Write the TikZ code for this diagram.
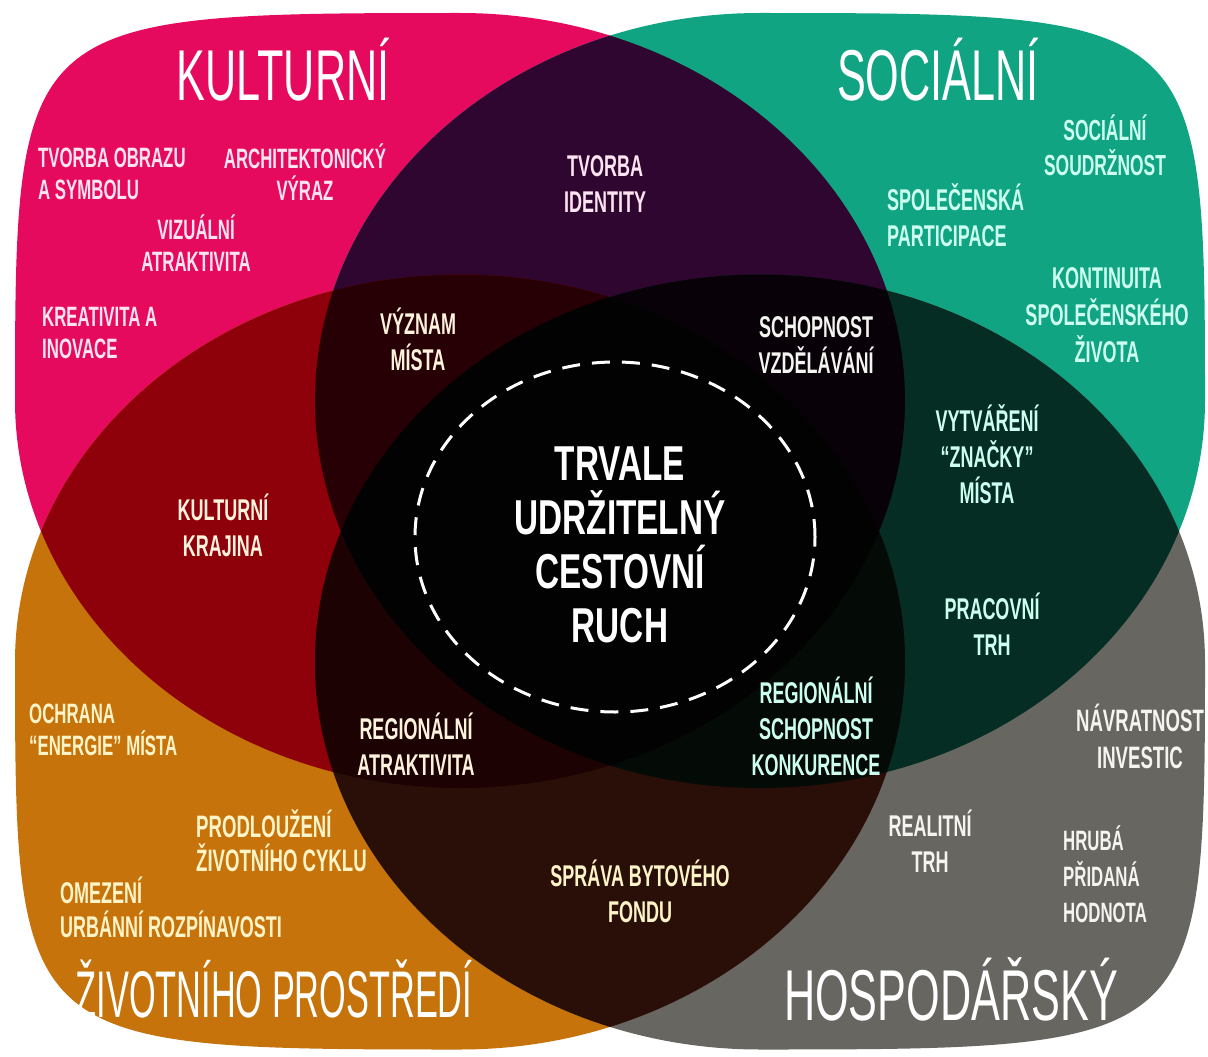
\documentclass[tikz,border=0pt]{standalone}
\usepackage{fontspec}
\newfontfamily\diafont{Liberation Sans}[FakeStretch=0.6]
\newfontfamily\narrowfont{Liberation Sans}[FakeStretch=0.52]
\newfontfamily\corefont{Liberation Sans}[FakeStretch=0.68]
\usetikzlibrary{shapes.geometric}

\definecolor{kulturni}{RGB}{230,10,94}
\definecolor{socialni}{RGB}{16,164,131}
\definecolor{prostredi}{RGB}{197,115,10}
\definecolor{hospodarsky}{RGB}{104,102,97}
\definecolor{kulsoc}{RGB}{46,6,48}
\definecolor{kulpro}{RGB}{142,0,10}
\definecolor{sochos}{RGB}{5,45,36}
\definecolor{prohos}{RGB}{42,15,8}
\definecolor{kulsocpro}{RGB}{38,0,4}
\definecolor{kulprohos}{RGB}{28,2,2}
\definecolor{kulsochos}{RGB}{8,2,8}
\definecolor{socprohos}{RGB}{4,10,6}
\definecolor{jadro}{RGB}{2,2,2}
\definecolor{txtpink}{RGB}{253,228,240}
\definecolor{txtteal}{RGB}{205,255,240}
\definecolor{txtorange}{RGB}{255,244,200}
\definecolor{txtgray}{RGB}{244,244,240}
\definecolor{txtcream}{RGB}{255,243,222}

% lobe: centre x, centre y, roundness of the corners TR, TL, BL, BR
\newcommand{\lobe}[6]{({#1+445},{#2})
  .. controls ({#1+445},{#2-#3*387.5}) and ({#1+#3*445},{#2-387.5}) .. ({#1},{#2-387.5})
  .. controls ({#1-#4*445},{#2-387.5}) and ({#1-445},{#2-#4*387.5}) .. ({#1-445},{#2})
  .. controls ({#1-445},{#2+#5*387.5}) and ({#1-#5*445},{#2+387.5}) .. ({#1},{#2+387.5})
  .. controls ({#1+#6*445},{#2+387.5}) and ({#1+445},{#2+#6*387.5}) .. cycle}
\newcommand{\shapeK}{\lobe{460}{400.5}{0.552}{0.99}{0.552}{0.552}}
\newcommand{\shapeS}{\lobe{760}{400.5}{0.99}{0.552}{0.552}{0.552}}
\newcommand{\shapeP}{\lobe{460}{662}{0.552}{0.552}{0.99}{0.552}}
\newcommand{\shapeH}{\lobe{760}{662}{0.552}{0.552}{0.552}{0.99}}

\begin{document}
\begin{tikzpicture}[x=1pt,y=-1pt,
  heading/.style={font=\diafont\fontsize{72}{72}\selectfont,text=white,inner sep=0pt,anchor=base},
  item/.style={font=\diafont\bfseries\fontsize{30}{36}\selectfont,inner sep=0pt,align=center},
  smallitem/.style={item,font=\diafont\bfseries\fontsize{28}{32}\selectfont},
  ring/.style={ellipse,draw=white,line width=3pt,dash pattern=on 18pt off 12pt,
    minimum width=400pt,minimum height=350pt,inner sep=0pt}]
\useasboundingbox (0,0) rectangle (1208,1057);
\fill[white] (0,0) rectangle (1208,1057);

% the four areas
\fill[kulturni] \shapeK;
\fill[socialni] \shapeS;
\fill[prostredi] \shapeP;
\fill[hospodarsky] \shapeH;

% overlaps of two
\begin{scope} \clip \shapeK; \fill[kulsoc] \shapeS; \end{scope}
\begin{scope} \clip \shapeK; \fill[kulpro] \shapeP; \end{scope}
\begin{scope} \clip \shapeS; \fill[sochos] \shapeH; \end{scope}
\begin{scope} \clip \shapeP; \fill[prohos] \shapeH; \end{scope}

% overlaps of three
\begin{scope} \clip \shapeK; \clip \shapeS; \fill[kulsocpro] \shapeP; \end{scope}
\begin{scope} \clip \shapeK; \clip \shapeP; \fill[kulprohos] \shapeH; \end{scope}
\begin{scope} \clip \shapeK; \clip \shapeS; \fill[kulsochos] \shapeH; \end{scope}
\begin{scope} \clip \shapeS; \clip \shapeP; \fill[socprohos] \shapeH; \end{scope}

% all four
\begin{scope} \clip \shapeK; \clip \shapeS; \clip \shapeP; \fill[jadro] \shapeH; \end{scope}

% headings
\node[heading] (kult) at (283,100) {KULTURNÍ};
\node[heading] (soc) at (938,100) {SOCIÁLNÍ};
\node[heading,font=\narrowfont\fontsize{66}{66}\selectfont] (prost) at (274,1017) {ŽIVOTNÍHO PROSTŘEDÍ};
\node[heading] (hosp) at (951,1020) {HOSPODÁŘSKÝ};

% centre
\node[ring] (ring) at (615,537) {};
\node[item,font=\corefont\bfseries\fontsize{49}{54}\selectfont,text=white] (core) at (620,545)
  {TRVALE\\UDRŽITELNÝ\\CESTOVNÍ\\RUCH};

% cultural
\node[smallitem,text=txtpink,anchor=west,align=left] (obraz) at (38,174) {TVORBA OBRAZU\\A SYMBOLU};
\node[smallitem,text=txtpink] (archit) at (305,172) {ARCHITEKTONICKÝ\\VÝRAZ};
\node[smallitem,text=txtpink] (vizual) at (196,243) {VIZUÁLNÍ\\ATRAKTIVITA};
\node[smallitem,text=txtpink,anchor=west,align=left] (kreat) at (42,333) {KREATIVITA A\\INOVACE};

% social
\node[item,text=txtteal,font=\diafont\bfseries\fontsize{29}{35}\selectfont] (soudrz) at (1105,145) {SOCIÁLNÍ\\SOUDRŽNOST};
\node[item,text=txtteal,anchor=west,align=left] (partic) at (887,215) {SPOLEČENSKÁ\\PARTICIPACE};
\node[item,text=txtteal,font=\diafont\bfseries\fontsize{30}{37}\selectfont] (kontin) at (1107,315) {KONTINUITA\\SPOLEČENSKÉHO\\ŽIVOTA};

% environment
\node[smallitem,text=txtorange,anchor=west,align=left] (ochrana) at (29,730) {OCHRANA\\“ENERGIE” MÍSTA};
\node[item,text=txtorange,anchor=west,align=left,font=\diafont\bfseries\fontsize{31}{34}\selectfont] (prodl) at (196,841) {PRODLOUŽENÍ\\ŽIVOTNÍHO CYKLU};
\node[item,text=txtorange,anchor=west,align=left,font=\diafont\bfseries\fontsize{30}{34}\selectfont] (omez) at (60,907) {OMEZENÍ\\URBÁNNÍ ROZPÍNAVOSTI};

% economic
\node[item,text=txtgray,font=\diafont\bfseries\fontsize{31}{37}\selectfont] (navrat) at (1140,736) {NÁVRATNOST\\INVESTIC};
\node[item,text=txtgray] (realit) at (930,841) {REALITNÍ\\TRH};
\node[item,text=txtgray,anchor=west,align=left,font=\diafont\bfseries\fontsize{28}{36}\selectfont] (hruba) at (1063,874) {HRUBÁ\\PŘIDANÁ\\HODNOTA};

% overlaps
\node[item,text=txtpink] (ident) at (605,184) {TVORBA\\IDENTITY};
\node[item,text=txtcream] (vyznam) at (418,339) {VÝZNAM\\MÍSTA};
\node[item,text=txtgray] (vzdel) at (816,345) {SCHOPNOST\\VZDĚLÁVÁNÍ};
\node[item,text=txtcream] (krajina) at (223,525) {KULTURNÍ\\KRAJINA};
\node[item,text=txtteal] (znacka) at (987,454) {VYTVÁŘENÍ\\“ZNAČKY”\\MÍSTA};
\node[item,text=txtteal] (pracov) at (992,624) {PRACOVNÍ\\TRH};
\node[item,text=txtcream] (regatr) at (416,744) {REGIONÁLNÍ\\ATRAKTIVITA};
\node[item,text=txtteal] (konkur) at (816,726) {REGIONÁLNÍ\\SCHOPNOST\\KONKURENCE};
\node[item,text=txtorange] (fond) at (640,891) {SPRÁVA BYTOVÉHO\\FONDU};
\end{tikzpicture}
\end{document}
